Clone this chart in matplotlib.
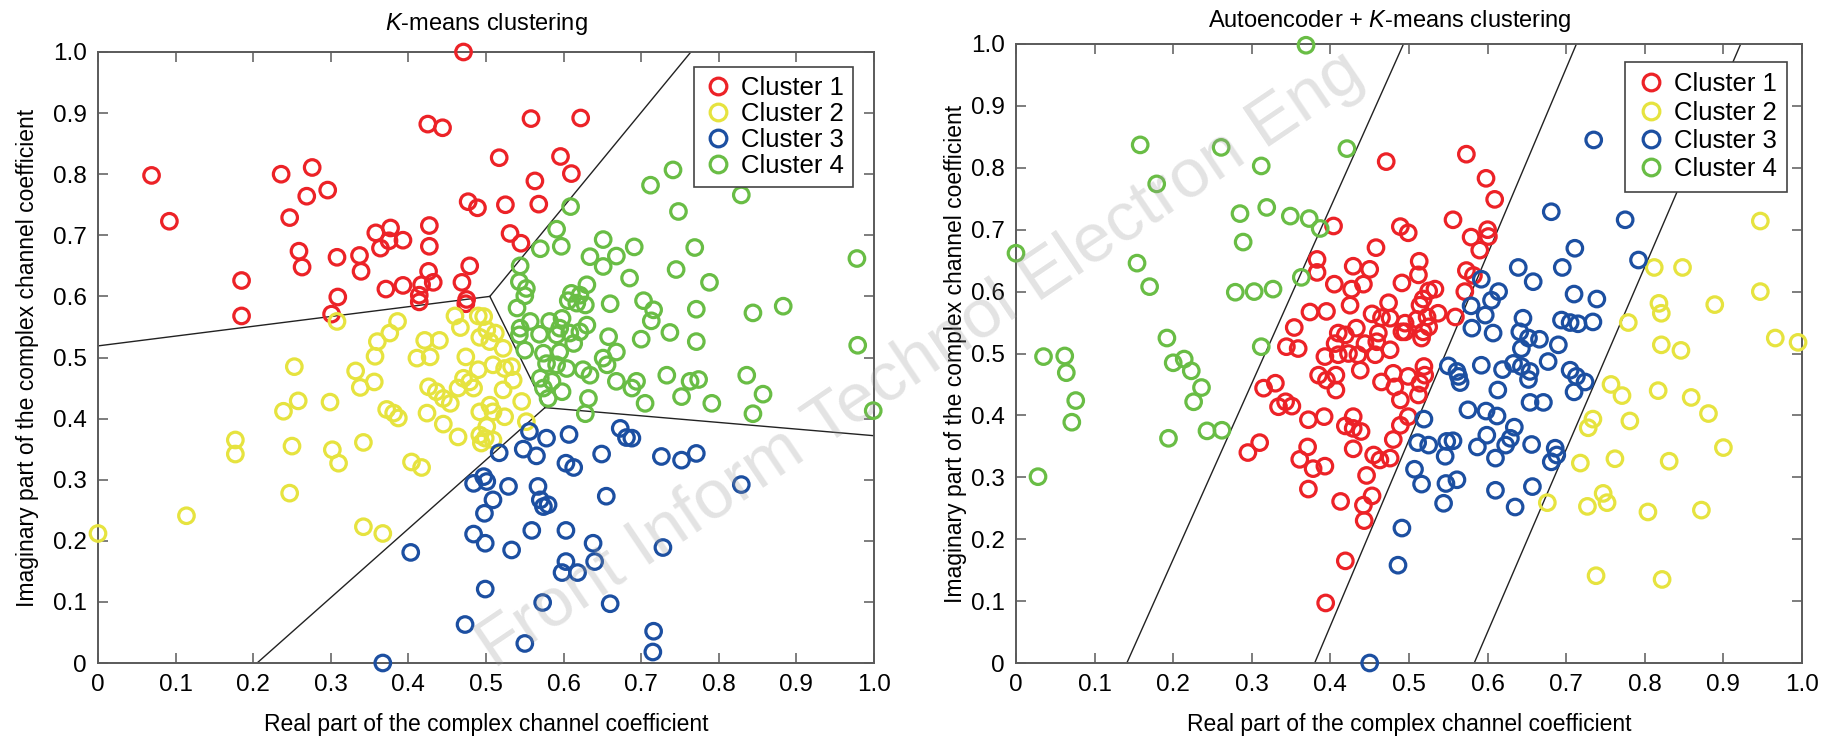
import matplotlib
matplotlib.use("Agg")
import matplotlib.pyplot as plt
from matplotlib.lines import Line2D

plt.rcParams['font.family'] = ['Liberation Sans', 'DejaVu Sans']
plt.rcParams['mathtext.fontset'] = 'custom'
plt.rcParams['mathtext.rm'] = 'Liberation Sans'
plt.rcParams['mathtext.it'] = 'Liberation Sans:italic'

# ---------------- data ----------------
tick_values = [0, 0.1, 0.2, 0.3, 0.4, 0.5, 0.6, 0.7, 0.8, 0.9, 1.0]
tick_labels = ['0', '0.1', '0.2', '0.3', '0.4', '0.5', '0.6', '0.7', '0.8', '0.9', '1.0']
cluster_names = ['Cluster 1', 'Cluster 2', 'Cluster 3', 'Cluster 4']

# Left panel: K-means clustering
km_c1_x = [0.471, 0.069, 0.092, 0.236, 0.276, 0.269, 0.296, 0.247, 0.259, 0.263, 0.185, 0.185, 0.308, 0.309,
           0.301, 0.337, 0.339, 0.358, 0.377, 0.364, 0.375, 0.393, 0.371, 0.393, 0.425, 0.444, 0.427, 0.427,
           0.426, 0.432, 0.417, 0.414, 0.414, 0.477, 0.489, 0.479, 0.469, 0.475, 0.474, 0.558, 0.622, 0.517,
           0.596, 0.610, 0.563, 0.525, 0.568, 0.531, 0.545]
km_c1_y = [1.000, 0.798, 0.723, 0.800, 0.811, 0.764, 0.774, 0.729, 0.674, 0.648, 0.626, 0.568, 0.664, 0.599,
           0.571, 0.667, 0.641, 0.704, 0.712, 0.679, 0.691, 0.692, 0.612, 0.618, 0.882, 0.876, 0.716, 0.682,
           0.641, 0.623, 0.619, 0.602, 0.591, 0.755, 0.745, 0.650, 0.623, 0.595, 0.588, 0.891, 0.892, 0.827,
           0.829, 0.801, 0.789, 0.750, 0.751, 0.703, 0.687]

km_c2_x = [0.253, 0.357, 0.332, 0.338, 0.356, 0.258, 0.239, 0.299, 0.177, 0.177, 0.250, 0.302, 0.310, 0.342,
           0.247, 0.114, 0.000, 0.342, 0.367, 0.404, 0.417, 0.372, 0.381, 0.387, 0.424, 0.445, 0.464, 0.426,
           0.436, 0.445, 0.454, 0.411, 0.428, 0.474, 0.490, 0.471, 0.464, 0.484, 0.479, 0.492, 0.492, 0.494,
           0.501, 0.308, 0.386, 0.376, 0.360, 0.421, 0.440, 0.460, 0.467, 0.490, 0.492, 0.497, 0.501, 0.512,
           0.505, 0.522, 0.509, 0.524, 0.533, 0.535, 0.522, 0.546, 0.505, 0.524, 0.509, 0.552, 0.499, 0.509]
km_c2_y = [0.485, 0.502, 0.478, 0.451, 0.460, 0.429, 0.412, 0.427, 0.365, 0.342, 0.355, 0.349, 0.327, 0.361,
           0.278, 0.241, 0.212, 0.223, 0.212, 0.329, 0.320, 0.415, 0.409, 0.401, 0.409, 0.391, 0.370, 0.452,
           0.444, 0.433, 0.425, 0.499, 0.501, 0.501, 0.480, 0.466, 0.450, 0.450, 0.460, 0.411, 0.373, 0.360,
           0.387, 0.559, 0.559, 0.540, 0.526, 0.528, 0.528, 0.568, 0.549, 0.568, 0.533, 0.567, 0.545, 0.540,
           0.526, 0.515, 0.488, 0.482, 0.485, 0.463, 0.447, 0.428, 0.422, 0.403, 0.411, 0.395, 0.368, 0.365]

km_c3_x = [0.403, 0.367, 0.473, 0.484, 0.497, 0.501, 0.498, 0.484, 0.499, 0.499, 0.556, 0.578, 0.607, 0.673,
           0.681, 0.688, 0.517, 0.548, 0.565, 0.649, 0.726, 0.752, 0.771, 0.603, 0.613, 0.529, 0.567, 0.509,
           0.570, 0.580, 0.574, 0.655, 0.829, 0.559, 0.603, 0.533, 0.638, 0.603, 0.640, 0.598, 0.618, 0.728,
           0.573, 0.660, 0.550, 0.716, 0.715]
km_c3_y = [0.181, 0.000, 0.063, 0.294, 0.305, 0.297, 0.245, 0.211, 0.196, 0.121, 0.379, 0.368, 0.374, 0.384,
           0.369, 0.368, 0.344, 0.350, 0.339, 0.342, 0.338, 0.332, 0.343, 0.327, 0.320, 0.289, 0.289, 0.267,
           0.267, 0.259, 0.256, 0.273, 0.292, 0.217, 0.217, 0.185, 0.196, 0.166, 0.166, 0.148, 0.148, 0.189,
           0.099, 0.097, 0.032, 0.052, 0.018]

km_c4_x = [0.741, 0.712, 0.829, 0.748, 0.609, 0.591, 0.597, 0.570, 0.651, 0.691, 0.769, 0.978, 0.634, 0.668,
           0.651, 0.544, 0.745, 0.685, 0.788, 0.543, 0.552, 0.550, 0.630, 0.610, 0.621, 0.606, 0.617, 0.628,
           0.540, 0.660, 0.703, 0.716, 0.713, 0.771, 0.844, 0.883, 0.737, 0.771, 0.700, 0.658, 0.668, 0.979,
           0.557, 0.544, 0.543, 0.569, 0.582, 0.598, 0.595, 0.591, 0.608, 0.630, 0.621, 0.613, 0.550, 0.574,
           0.595, 0.651, 0.578, 0.591, 0.604, 0.625, 0.634, 0.656, 0.570, 0.585, 0.574, 0.598, 0.580, 0.668,
           0.694, 0.688, 0.733, 0.763, 0.774, 0.752, 0.791, 0.836, 0.857, 0.844, 0.999, 0.632, 0.628, 0.705]
km_c4_y = [0.807, 0.782, 0.766, 0.739, 0.747, 0.710, 0.682, 0.678, 0.693, 0.681, 0.680, 0.662, 0.665, 0.666,
           0.649, 0.650, 0.644, 0.630, 0.623, 0.624, 0.613, 0.601, 0.619, 0.605, 0.602, 0.593, 0.589, 0.586,
           0.581, 0.588, 0.593, 0.578, 0.560, 0.579, 0.573, 0.584, 0.541, 0.526, 0.530, 0.534, 0.509, 0.520,
           0.559, 0.548, 0.537, 0.538, 0.559, 0.564, 0.548, 0.537, 0.540, 0.553, 0.542, 0.523, 0.512, 0.507,
           0.509, 0.499, 0.490, 0.488, 0.482, 0.480, 0.471, 0.488, 0.466, 0.461, 0.450, 0.444, 0.433, 0.461,
           0.461, 0.450, 0.471, 0.461, 0.464, 0.436, 0.425, 0.471, 0.440, 0.408, 0.413, 0.433, 0.408, 0.425]

# Voronoi boundaries of the K-means result (polyline vertices)
km_bound_x = [[0.0, 0.505], [0.505, 0.764], [0.505, 0.576], [0.576, 1.0], [0.576, 0.205]]
km_bound_y = [[0.519, 0.600], [0.600, 1.0], [0.600, 0.418], [0.418, 0.372], [0.418, 0.0]]

# Right panel: Autoencoder + K-means clustering
ae_c1_x = [0.471, 0.404, 0.489, 0.458, 0.383, 0.383, 0.429, 0.450, 0.491, 0.405, 0.442, 0.427, 0.425, 0.474,
           0.374, 0.395, 0.453, 0.465, 0.476, 0.354, 0.410, 0.419, 0.433, 0.461, 0.491, 0.344, 0.359, 0.406,
           0.444, 0.459, 0.476, 0.393, 0.410, 0.423, 0.435, 0.457, 0.385, 0.395, 0.407, 0.407, 0.438, 0.465,
           0.480, 0.482, 0.489, 0.315, 0.330, 0.334, 0.343, 0.351, 0.372, 0.392, 0.429, 0.419, 0.429, 0.439,
           0.480, 0.489, 0.295, 0.310, 0.371, 0.361, 0.378, 0.393, 0.372, 0.429, 0.455, 0.463, 0.476, 0.446,
           0.453, 0.442, 0.443, 0.413, 0.419, 0.394, 0.573, 0.598, 0.609, 0.556, 0.499, 0.579, 0.600, 0.601,
           0.590, 0.513, 0.512, 0.573, 0.582, 0.525, 0.533, 0.518, 0.514, 0.571, 0.537, 0.559, 0.523, 0.510,
           0.495, 0.495, 0.518, 0.525, 0.516, 0.519, 0.520, 0.514, 0.499, 0.512, 0.499]
ae_c1_y = [0.810, 0.706, 0.705, 0.671, 0.652, 0.631, 0.641, 0.636, 0.614, 0.612, 0.612, 0.604, 0.578, 0.582,
           0.567, 0.568, 0.564, 0.558, 0.557, 0.542, 0.533, 0.530, 0.541, 0.533, 0.535, 0.511, 0.508, 0.516,
           0.516, 0.519, 0.506, 0.495, 0.498, 0.500, 0.498, 0.498, 0.465, 0.457, 0.465, 0.441, 0.473, 0.454,
           0.468, 0.446, 0.425, 0.444, 0.452, 0.414, 0.422, 0.415, 0.393, 0.398, 0.398, 0.383, 0.379, 0.374,
           0.361, 0.384, 0.340, 0.356, 0.349, 0.329, 0.314, 0.318, 0.281, 0.346, 0.336, 0.328, 0.331, 0.303,
           0.270, 0.255, 0.230, 0.261, 0.165, 0.097, 0.822, 0.783, 0.749, 0.716, 0.695, 0.688, 0.700, 0.689,
           0.667, 0.649, 0.627, 0.634, 0.626, 0.601, 0.604, 0.588, 0.578, 0.600, 0.565, 0.559, 0.559, 0.555,
           0.549, 0.535, 0.535, 0.543, 0.525, 0.479, 0.465, 0.452, 0.463, 0.433, 0.398]

ae_c2_x = [0.947, 0.812, 0.848, 0.947, 0.889, 0.818, 0.821, 0.779, 0.966, 0.995, 0.821, 0.846, 0.757, 0.771,
           0.817, 0.859, 0.881, 0.781, 0.734, 0.728, 0.900, 0.718, 0.762, 0.831, 0.747, 0.752, 0.727, 0.676,
           0.804, 0.872, 0.738, 0.822]
ae_c2_y = [0.714, 0.639, 0.639, 0.600, 0.579, 0.581, 0.565, 0.550, 0.525, 0.518, 0.514, 0.505, 0.450, 0.432,
           0.440, 0.429, 0.403, 0.391, 0.394, 0.380, 0.348, 0.323, 0.330, 0.326, 0.274, 0.259, 0.253, 0.259,
           0.244, 0.247, 0.141, 0.135]

ae_c3_x = [0.735, 0.681, 0.775, 0.711, 0.792, 0.639, 0.695, 0.658, 0.592, 0.710, 0.739, 0.614, 0.605, 0.579,
           0.597, 0.645, 0.694, 0.705, 0.715, 0.734, 0.580, 0.607, 0.641, 0.652, 0.666, 0.690, 0.643, 0.592,
           0.550, 0.561, 0.563, 0.565, 0.619, 0.633, 0.643, 0.654, 0.652, 0.677, 0.705, 0.713, 0.724, 0.710,
           0.613, 0.575, 0.598, 0.612, 0.654, 0.671, 0.519, 0.634, 0.599, 0.629, 0.623, 0.511, 0.525, 0.548,
           0.556, 0.587, 0.656, 0.686, 0.688, 0.681, 0.546, 0.610, 0.507, 0.516, 0.547, 0.561, 0.544, 0.610,
           0.657, 0.635, 0.491, 0.486, 0.450]
ae_c3_y = [0.845, 0.729, 0.716, 0.670, 0.651, 0.639, 0.639, 0.616, 0.620, 0.596, 0.588, 0.600, 0.586, 0.577,
           0.562, 0.557, 0.554, 0.550, 0.548, 0.551, 0.541, 0.533, 0.535, 0.525, 0.523, 0.514, 0.508, 0.481,
           0.480, 0.471, 0.463, 0.453, 0.474, 0.484, 0.479, 0.471, 0.458, 0.487, 0.473, 0.463, 0.454, 0.438,
           0.441, 0.409, 0.407, 0.399, 0.421, 0.421, 0.394, 0.381, 0.368, 0.363, 0.352, 0.356, 0.352, 0.358,
           0.359, 0.349, 0.353, 0.347, 0.336, 0.325, 0.334, 0.331, 0.313, 0.289, 0.290, 0.296, 0.258, 0.279,
           0.285, 0.252, 0.218, 0.158, 0.000]

ae_c4_x = [0.369, 0.158, 0.261, 0.421, 0.312, 0.179, 0.285, 0.319, 0.349, 0.373, 0.387, 0.000, 0.289, 0.154,
           0.170, 0.279, 0.303, 0.327, 0.363, 0.192, 0.312, 0.035, 0.062, 0.064, 0.076, 0.071, 0.028, 0.200,
           0.214, 0.223, 0.236, 0.226, 0.194, 0.243, 0.262]
ae_c4_y = [0.998, 0.837, 0.833, 0.831, 0.803, 0.774, 0.726, 0.736, 0.722, 0.718, 0.702, 0.662, 0.680, 0.646,
           0.608, 0.599, 0.600, 0.604, 0.623, 0.525, 0.511, 0.495, 0.496, 0.469, 0.424, 0.389, 0.301, 0.485,
           0.491, 0.472, 0.445, 0.422, 0.363, 0.375, 0.376]

# Decision boundaries in the autoencoder case
ae_bound_x = [[0.141, 0.493], [0.380, 0.713], [0.583, 0.922]]
ae_bound_y = [[0.0, 1.0], [0.0, 1.0], [0.0, 1.0]]

# ---------------- style ----------------
colors = ['#EC2227', '#E6E33F', '#1C4FA1', '#69BD45']
W, H = 1823, 739
fig = plt.figure(figsize=(W / 100, H / 100), dpi=100)
axL = fig.add_axes([98 / W, (H - 663) / H, 776 / W, 611 / H])
axR = fig.add_axes([1016 / W, (H - 663) / H, 786 / W, 619 / H])

spine_col = '#5a5a5a'


def draw(ax, clusters, bx, by, title, title_pad, title_x, ylabelpad, leg_anchor, leg_spacing, leg_pad):
    for ln_x, ln_y in zip(bx, by):
        ax.plot(ln_x, ln_y, color='#222222', lw=1.0, zorder=1)
    for (cx, cy), col in zip(clusters, colors):
        ax.scatter(cx, cy, s=125, facecolors='none', edgecolors=col, linewidths=2.3, zorder=3,
                   clip_on=False)
    ax.set_xlim(0, 1.0)
    ax.set_ylim(0, 1.0)
    ax.set_xticks(tick_values)
    ax.set_xticklabels(tick_labels)
    ax.set_yticks(tick_values)
    ax.set_yticklabels(tick_labels)
    ax.tick_params(direction='in', length=7, width=1.1, color=spine_col, labelsize=17.5,
                   top=True, right=True, pad=8)
    for sp in ax.spines.values():
        sp.set_color(spine_col)
        sp.set_linewidth(1.4)
    ax.set_xlabel('Real part of the complex channel coefficient', fontsize=16.5, labelpad=12)
    ax.set_ylabel('Imaginary part of the complex channel coefficient', fontsize=16.5,
                  labelpad=ylabelpad)
    ax.set_title(title, fontsize=17, pad=title_pad, x=title_x)
    handles = [Line2D([], [], ls='none', marker='o', markersize=12, markerfacecolor='none',
                      markeredgecolor=c, markeredgewidth=2.3) for c in colors]
    leg = ax.legend(handles, cluster_names, loc='upper right', fontsize=18.5, frameon=True,
                    fancybox=False, edgecolor='#444444', framealpha=1, borderpad=leg_pad,
                    labelspacing=leg_spacing, handletextpad=0.3, handlelength=1.2,
                    bbox_to_anchor=leg_anchor, borderaxespad=0)
    leg.get_frame().set_linewidth(1.2)
    leg.set_zorder(5)


draw(axL, [(km_c1_x, km_c1_y), (km_c2_x, km_c2_y), (km_c3_x, km_c3_y), (km_c4_x, km_c4_y)],
     km_bound_x, km_bound_y, r'$\mathit{K}$-means clustering', 16, 0.5, 10,
     (0.973, 0.976), 0.08, 0.35)
draw(axR, [(ae_c1_x, ae_c1_y), (ae_c2_x, ae_c2_y), (ae_c3_x, ae_c3_y), (ae_c4_x, ae_c4_y)],
     ae_bound_x, ae_bound_y, r'Autoencoder + $\mathit{K}$-means clustering', 12, 0.476, 3,
     (0.981, 0.971), 0.17, 0.4)

# publisher watermark
fig.text(921 / W, 1 - 360 / H, 'Front Inform Technol Electron Eng', fontsize=50, color='#9a9a9a',
         alpha=0.28, rotation=34, ha='center', va='center', zorder=10)

fig.savefig('out.png', dpi=100)
